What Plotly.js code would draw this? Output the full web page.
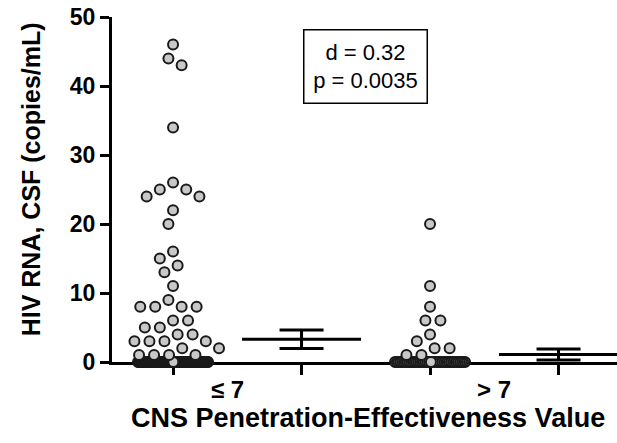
<!DOCTYPE html>
<html><head><meta charset="utf-8">
<script src="https://cdn.plot.ly/plotly-3.0.1.min.js"></script>
<style>html,body{margin:0;padding:0;background:#fff}</style>
</head><body><div id="chart" style="width:617px;height:443px"></div>
<script>
// ---- data ----
const groupLabels = ['≤ 7', '> 7'];
const lowCpeValues = [46,44,43,34,26,25,25,24,24,22,20,16,15,14,13,11,9,8,8,8,8,6,6,5,5,4,4,3,3,3,3,2,2,1,1,1,1,
  0,0,0,0,0,0,0,0,0,0, 0,0,0,0,0,0,0,0,0,0, 0,0,0,0,0,0,0,0,0,0, 0,0,0,0,0,0,0,0,0,0,
  0,0,0,0,0,0,0,0,0,0, 0,0,0,0,0,0,0,0,0,0, 0,0,0,0,0,0,0,0,0,0, 0,0,0,0,0,0,0,0,0,0,
  0,0,0,0,0,0,0,0,0,0, 0,0,0,0,0,0,0,0,0,0, 0,0,0,0,0,0,0,0,0,0];
const highCpeValues = [20,11,8,6,6,4,3,2,2,1,1,
  0,0,0,0,0,0,0,0,0,0, 0,0,0,0,0,0,0,0,0,0, 0,0,0,0,0,0,0,0,0,0, 0,0,0,0,0,0,0,0,0,0];
const groupMeans = [3.3, 1.1];
const groupErrors = [1.33, 0.8];
const statsLines = ['d = 0.32', 'p = 0.0035'];
const yTickVals = [0, 10, 20, 30, 40, 50];
const yTitle = 'HIV RNA, CSF (copies/mL)';
const xTitle = 'CNS Penetration-Effectiveness Value';

// ---- layout geometry ----
const W = 617, H = 443;
const M = {l: 112, r: 0, t: 17, b: 81};
const xRange = [-0.475, 3.455], yRange = [0, 50];
const pxPerX = (W - M.l - M.r) / (xRange[1] - xRange[0]);
const pxPerY = (H - M.t - M.b) / (yRange[1] - yRange[0]);

// beeswarm layout (pixel space) -> offsets
function swarm(values, Dx, Dy, maxOff) {
  const n = values.length;
  const idx = values.map((v, i) => i).sort((a, b) => values[b] - values[a]);
  const counts = {};
  values.forEach(v => counts[v] = (counts[v] || 0) + 1);
  const capacity = Math.floor(2 * maxOff / Dx) + 1;
  const off = new Array(n).fill(0);
  const placed = [];
  const overflow = [];
  idx.forEach(i => {
    const y = values[i] * pxPerY;
    if (counts[values[i]] > capacity) { overflow.push(i); return; }
    const iv = [];
    placed.forEach(p => {
      const dy = Math.abs(p.y - y);
      if (dy < Dy) {
        const h = Dx * Math.sqrt(1 - (dy / Dy) * (dy / Dy));
        iv.push([p.x - h, p.x + h]);
      }
    });
    const cands = [0];
    iv.forEach(v => cands.push(v[0], v[1]));
    cands.sort((a, b) => Math.abs(a) - Math.abs(b) || a - b);
    let best = 0;
    for (const c of cands) {
      if (iv.every(v => c <= v[0] + 1e-6 || c >= v[1] - 1e-6)) { best = c; break; }
    }
    off[i] = best;
    placed.push({x: best, y: y});
  });
  // overfull rows: spread evenly across the column width
  const rows = {};
  overflow.forEach(i => { (rows[values[i]] = rows[values[i]] || []).push(i); });
  Object.values(rows).forEach(list => {
    const m = list.length;
    list.forEach((i, k) => { off[i] = m > 1 ? -maxOff + 2 * maxOff * k / (m - 1) : 0; });
  });
  // draw order: overfull rows first (outer to center), then others
  const order = overflow.slice().sort((a, b) => Math.abs(off[b]) - Math.abs(off[a]))
    .concat(idx.filter(i => !overflow.includes(i)));
  return {off, order};
}

function groupTrace(values, center) {
  const s = swarm(values, 15, 14.5, 35);
  return {
    type: 'scatter', mode: 'markers', cliponaxis: false, hoverinfo: 'skip',
    x: s.order.map(i => center + s.off[i] / pxPerX),
    y: s.order.map(i => values[i]),
    marker: {size: 10, color: '#c8c8c8', line: {width: 2, color: '#1a1a1a'}}
  };
}

const traces = [
  groupTrace(lowCpeValues, 0),
  groupTrace(highCpeValues, 2),
  {
    type: 'scatter', mode: 'markers', cliponaxis: false, hoverinfo: 'skip',
    x: [1, 3], y: groupMeans,
    marker: {symbol: 'line-ew', size: 85, color: '#000', line: {width: 3, color: '#000'}},
    error_y: {type: 'data', array: groupErrors, visible: true, thickness: 3, width: 22, color: '#000'}
  }
];

const bold = {family: 'Liberation Sans, Arial, sans-serif', color: '#000', weight: 'bold'};
const layout = {
  width: W, height: H, margin: M, showlegend: false,
  paper_bgcolor: '#fff', plot_bgcolor: '#fff',
  xaxis: {range: xRange, showgrid: false, zeroline: false, showline: true, linewidth: 3, linecolor: '#000',
    ticks: 'outside', tickvals: [0, 1, 2, 3], ticklen: 10, tickwidth: 3, tickcolor: '#000',
    showticklabels: false, layer: 'below traces', fixedrange: true},
  yaxis: {range: yRange, showgrid: false, zeroline: false, showline: true, linewidth: 3, linecolor: '#000',
    ticks: 'outside', tickvals: yTickVals, ticklen: 9, tickwidth: 3, tickcolor: '#000',
    tickfont: Object.assign({size: 23}, bold), layer: 'below traces', fixedrange: true},
  annotations: [
    {xref: 'x', yref: 'paper', x: 0.42, y: -0.078, text: groupLabels[0], showarrow: false,
      font: Object.assign({size: 24}, bold), xanchor: 'center', yanchor: 'middle', height: 20},
    {xref: 'x', yref: 'paper', x: 2.5, y: -0.078, text: groupLabels[1], showarrow: false,
      font: Object.assign({size: 24}, bold), xanchor: 'center', yanchor: 'middle', height: 20},
    {xref: 'paper', yref: 'paper', x: 0.507, y: -0.163, text: xTitle, showarrow: false,
      font: Object.assign({size: 27}, bold), xanchor: 'center', yanchor: 'middle', height: 22},
    {xref: 'paper', yref: 'paper', x: -0.160, y: 0.530, text: yTitle, showarrow: false, textangle: -90,
      font: Object.assign({size: 25}, bold), xanchor: 'center', yanchor: 'middle'},
    {xref: 'x', yref: 'y', x: 1.494, y: 42.8, text: statsLines.join('<br>'), showarrow: false,
      font: {family: 'Liberation Sans, Arial, sans-serif', size: 22, color: '#000'},
      bordercolor: '#000', borderwidth: 1.5, borderpad: 2, width: 118, height: 68,
      bgcolor: '#fff', xanchor: 'center', yanchor: 'middle', align: 'center'}
  ]
};

Plotly.newPlot('chart', traces, layout, {staticPlot: true, displayModeBar: false});
</script>
</body></html>
